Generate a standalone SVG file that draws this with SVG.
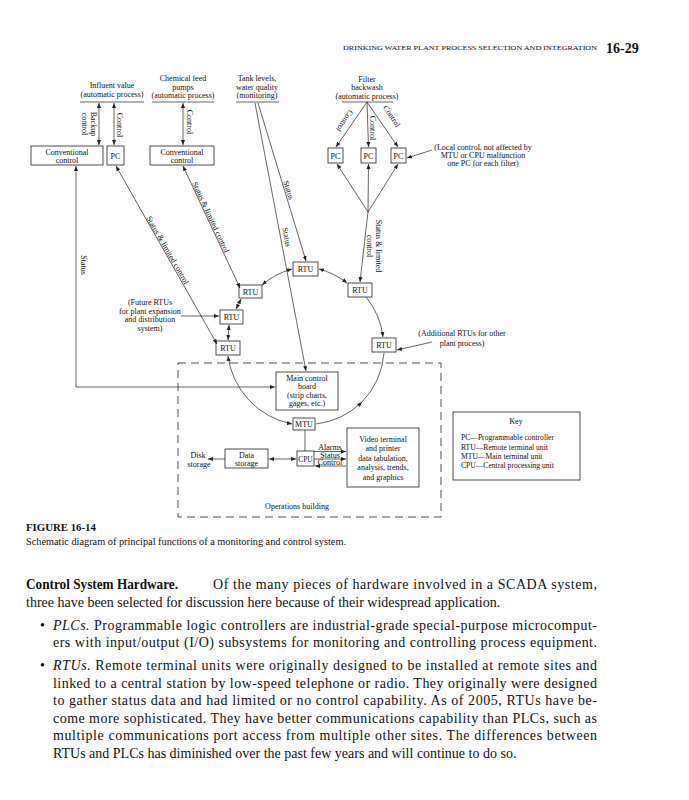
<svg xmlns="http://www.w3.org/2000/svg" width="689" height="800" viewBox="0 0 689 800">
<defs>
<style>
.t{font-family:"Liberation Serif","Times New Roman",serif;font-size:8px;fill:#111}
.k{font-size:7.6px}
.m{text-anchor:middle}
.b{fill:#fff;stroke:#222;stroke-width:0.8}
.c{fill:none;stroke:#222;stroke-width:0.7}
.ab{marker-start:url(#a);marker-end:url(#a)}
.ae{marker-end:url(#a)}
.body{font-family:"Liberation Serif","Times New Roman",serif;font-size:14px;fill:#111}
</style>
<marker id="a" viewBox="0 0 10 10" refX="10" refY="5" markerWidth="5" markerHeight="5" markerUnits="userSpaceOnUse" orient="auto-start-reverse"><path d="M0,1 L10,5 L0,9 z" fill="#222"/></marker>
</defs>
<rect width="689" height="800" fill="#fff"/>

<g id="header">
<text class="t" x="343" y="50" textLength="254" lengthAdjust="spacingAndGlyphs" style="font-size:7px">DRINKING WATER PLANT PROCESS SELECTION AND INTEGRATION</text>
<text x="606" y="53" style="font-family:'Liberation Serif',serif;font-size:14px;font-weight:bold;fill:#111">16-29</text>
</g>

<g id="influent">
<text class="t m" x="112" y="88">Influent value</text>
<text class="t m" x="112" y="97">(automatic process)</text>
<line class="c" x1="80" y1="102" x2="144" y2="102"/>
</g>
<g id="chemical-feed">
<text class="t m" x="183" y="81">Chemical feed</text>
<text class="t m" x="183" y="89.5">pumps</text>
<text class="t m" x="183" y="98">(automatic process)</text>
<line class="c" x1="152" y1="102" x2="214" y2="102"/>
</g>
<g id="tank-levels">
<text class="t m" x="257" y="81">Tank levels,</text>
<text class="t m" x="257" y="89.5">water quality</text>
<text class="t m" x="257" y="98">(monitoring)</text>
<line class="c" x1="236" y1="102" x2="279" y2="102"/>
</g>
<g id="filter-backwash">
<text class="t m" x="367" y="81.5">Filter</text>
<text class="t m" x="367" y="90">backwash</text>
<text class="t m" x="367" y="98.5">(automatic process)</text>
<line class="c" x1="342" y1="102" x2="393" y2="102"/>
</g>

<g id="conv-control-1">
<rect class="b" x="31" y="146" width="72" height="19"/>
<text class="t m" x="67" y="154.5">Conventional</text>
<text class="t m" x="67" y="163">control</text>
</g>
<g id="pc-1">
<rect class="b" x="107" y="146" width="17" height="19"/>
<text class="t m" x="115.5" y="158.5">PC</text>
</g>
<g id="conv-control-2">
<rect class="b" x="150" y="146" width="64" height="19"/>
<text class="t m" x="182" y="154.5">Conventional</text>
<text class="t m" x="182" y="163">control</text>
</g>
<g id="pc-f1">
<rect class="b" x="328" y="148" width="15" height="15"/>
<text class="t m" x="335.5" y="158.5">PC</text>
</g>
<g id="pc-f2">
<rect class="b" x="361" y="148" width="15" height="15"/>
<text class="t m" x="368.5" y="158.5">PC</text>
</g>
<g id="pc-f3">
<rect class="b" x="391" y="148" width="15" height="15"/>
<text class="t m" x="398.5" y="158.5">PC</text>
</g>
<g id="local-note">
<text class="t m" x="483" y="150">(Local control, not affected by</text>
<text class="t m" x="483" y="158">MTU or CPU malfunction</text>
<text class="t m" x="483" y="166">one PC for each filter)</text>
</g>

<g id="rtu-top"><rect class="b" x="293" y="262" width="25" height="14"/><text class="t m" x="305.5" y="272">RTU</text></g>
<g id="rtu-ul"><rect class="b" x="239" y="285" width="23" height="13"/><text class="t m" x="250.5" y="294.5">RTU</text></g>
<g id="rtu-ur"><rect class="b" x="348" y="283" width="24" height="14"/><text class="t m" x="360" y="293">RTU</text></g>
<g id="rtu-ml"><rect class="b" x="220" y="310" width="23" height="14"/><text class="t m" x="231.5" y="320">RTU</text></g>
<g id="rtu-ll"><rect class="b" x="216" y="341" width="24" height="14"/><text class="t m" x="228" y="351">RTU</text></g>
<g id="rtu-lr"><rect class="b" x="372" y="338" width="24" height="14"/><text class="t m" x="384" y="348">RTU</text></g>

<g id="future-note">
<text class="t m" x="150" y="305">(Future RTUs</text>
<text class="t m" x="150" y="313.5">for plant expansion</text>
<text class="t m" x="150" y="322">and distribution</text>
<text class="t m" x="150" y="330.5">system)</text>
</g>
<g id="additional-note">
<text class="t m" x="462" y="336">(Additional RTUs for other</text>
<text class="t m" x="462" y="346">plant process)</text>
</g>

<g id="operations-building">
<rect x="178" y="363" width="263" height="154" fill="none" stroke="#222" stroke-width="0.8" stroke-dasharray="8,5"/>
<text class="t m" x="297" y="508.5">Operations building</text>
</g>
<g id="main-board">
<rect class="b" x="276" y="372" width="62" height="38"/>
<text class="t m" x="307" y="380.5">Main control</text>
<text class="t m" x="307" y="388.5">board</text>
<text class="t m" x="307" y="397.5">(strip charts,</text>
<text class="t m" x="307" y="405.5">gages, etc.)</text>
</g>
<g id="mtu"><rect class="b" x="293" y="418" width="22" height="12"/><text class="t m" x="304" y="427">MTU</text></g>
<g id="cpu"><rect class="b" x="297" y="451" width="17" height="15"/><text class="t m" x="305.5" y="461.5" style="font-size:7.4px">CPU</text></g>
<g id="data-storage">
<rect class="b" x="225" y="449" width="43" height="19"/>
<text class="t m" x="246.5" y="457.5">Data</text>
<text class="t m" x="246.5" y="466">storage</text>
</g>
<g id="disk-storage">
<text class="t m" x="198" y="458">Disk</text>
<text class="t m" x="199" y="467">storage</text>
</g>
<g id="video-terminal">
<rect class="b" x="347" y="428" width="72" height="59"/>
<text class="t m" x="383" y="442">Video terminal</text>
<text class="t m" x="383" y="451">and printer</text>
<text class="t m" x="383" y="461">data tabulation,</text>
<text class="t m" x="383" y="470">analysis, trends,</text>
<text class="t m" x="383" y="480">and graphics</text>
</g>
<g id="key">
<rect class="b" x="453" y="412" width="127" height="68"/>
<text class="t m" x="516" y="424">Key</text>
<text class="t k" x="461" y="440">PC—Programmable controller</text>
<text class="t k" x="461" y="450">RTU—Remote terminal unit</text>
<text class="t k" x="461" y="459">MTU—Main terminal unit</text>
<text class="t k" x="461" y="468">CPU—Central processing unit</text>
</g>

<g id="connectors">
<path class="c ab" d="M99,103 V145"/>
<path class="c ab" d="M114,103 V145"/>
<path class="c ab" d="M183,103 V145"/>
<path class="c ab" d="M76,166 V387 H275"/>
<path class="c ab" d="M116,166 L217,344"/>
<path class="c ab" d="M183,166 L240,288"/>
<path class="c ae" d="M258,103 L306,261"/>
<path class="c ae" d="M255,103 L306,371"/>
<path class="c ae" d="M367,102 L336,147"/>
<path class="c ae" d="M367,102 L368.5,147"/>
<path class="c ae" d="M367,102 L398,147"/>
<path class="c ae" d="M368,212 L337,164"/>
<path class="c ae" d="M368,212 L368.5,164"/>
<path class="c ae" d="M368,212 L398,164"/>
<path class="c ae" d="M368,212 L360,282"/>
<path class="c ae" d="M432,150 L407,158"/>
<path class="c ae" d="M181,316 H219"/>
<path class="c ae" d="M432,342 L397,350"/>
<path class="c ab" d="M262,285 A76,76 0 0 1 292,269"/>
<path class="c ab" d="M319,269 A78,78 0 0 1 347,283"/>
<path class="c ae" d="M366,297 A78,78 0 0 1 383,337"/>
<path class="c ab" d="M241,299 L236,309"/>
<path class="c ab" d="M229,325 L228,340"/>
<path class="c ab" d="M228,356 A80,80 0 0 0 292,424"/>
<path class="c ae" d="M316,424 A80,80 0 0 0 362,402"/>
<path class="c" d="M362,402 A80,80 0 0 0 384,353"/>
<path class="c" d="M305,430 V451"/>
<path class="c ab" d="M269,459 H296"/>
<path class="c ae" d="M225,459 H208"/>
<path class="c ae" d="M314,451.5 H346"/>
<path class="c ae" d="M314,459 H346"/>
<path class="c ae" d="M346,466 H315"/>
<g id="connector-labels">
<text class="t m" transform="translate(89,124) rotate(90)"><tspan x="0" y="-1.5">Backup</tspan><tspan x="0" y="7">control</tspan></text>
<text class="t m" transform="translate(117,125) rotate(90)">Control</text>
<text class="t m" transform="translate(187,122) rotate(90)">Control</text>
<text class="t m" transform="translate(81,265) rotate(90)">Status</text>
<text class="t m" transform="translate(168,250) rotate(60)" y="3">Status &amp; limited control</text>
<text class="t m" transform="translate(211,217) rotate(65)" y="3">Status &amp; limited control</text>
<text class="t m" transform="translate(289,190) rotate(73)" y="3">Status</text>
<text class="t m" transform="translate(287,237) rotate(79)" y="3">Status</text>
<text class="t m" transform="translate(345,121) rotate(124)" y="3">Control</text>
<text class="t m" transform="translate(373,128) rotate(90)" y="3">Control</text>
<text class="t m" transform="translate(392,116) rotate(56)" y="3">Control</text>
<text class="t m" transform="translate(374,246) rotate(90)"><tspan x="0" y="-1.5">Status &amp; limited</tspan><tspan x="0" y="7.5">control</tspan></text>
<text class="t m" x="330" y="449.5">Alarms</text>
<text class="t m" x="330" y="457.5">Status</text>
<text class="t m" x="330" y="465">Control</text>
</g>
</g>

<g id="caption">
<text x="26" y="531" style="font-family:'Liberation Serif',serif;font-size:10.8px;font-weight:bold;fill:#111">FIGURE 16-14</text>
<text x="26" y="545" style="font-family:'Liberation Serif',serif;font-size:10.3px;fill:#111">Schematic diagram of principal functions of a monitoring and control system.</text>
</g>

<g id="body-text">
<text class="body" x="26" y="588.5" style="font-weight:bold" textLength="152" lengthAdjust="spacingAndGlyphs">Control System Hardware.</text>
<text class="body" x="213" y="588.5" textLength="384" lengthAdjust="spacing">Of the many pieces of hardware involved in a SCADA system,</text>
<text class="body" x="26" y="606.5">three have been selected for discussion here because of their widespread application.</text>
<text class="body" x="40" y="629.5">•</text>
<text class="body" x="53" y="629.5" textLength="544" lengthAdjust="spacing"><tspan font-style="italic">PLCs.</tspan> Programmable logic controllers are industrial-grade special-purpose microcomput-</text>
<text class="body" x="53" y="647" textLength="544" lengthAdjust="spacing">ers with input/output (I/O) subsystems for monitoring and controlling process equipment.</text>
<text class="body" x="40" y="670">•</text>
<text class="body" x="53" y="670" textLength="544" lengthAdjust="spacing"><tspan font-style="italic">RTUs.</tspan> Remote terminal units were originally designed to be installed at remote sites and</text>
<text class="body" x="53" y="687.5" textLength="544" lengthAdjust="spacing">linked to a central station by low-speed telephone or radio. They originally were designed</text>
<text class="body" x="53" y="705" textLength="544" lengthAdjust="spacing">to gather status data and had limited or no control capability. As of 2005, RTUs have be-</text>
<text class="body" x="53" y="722.5" textLength="544" lengthAdjust="spacing">come more sophisticated. They have better communications capability than PLCs, such as</text>
<text class="body" x="53" y="740" textLength="544" lengthAdjust="spacing">multiple communications port access from multiple other sites. The differences between</text>
<text class="body" x="53" y="757.5">RTUs and PLCs has diminished over the past few years and will continue to do so.</text>
</g>
</svg>
